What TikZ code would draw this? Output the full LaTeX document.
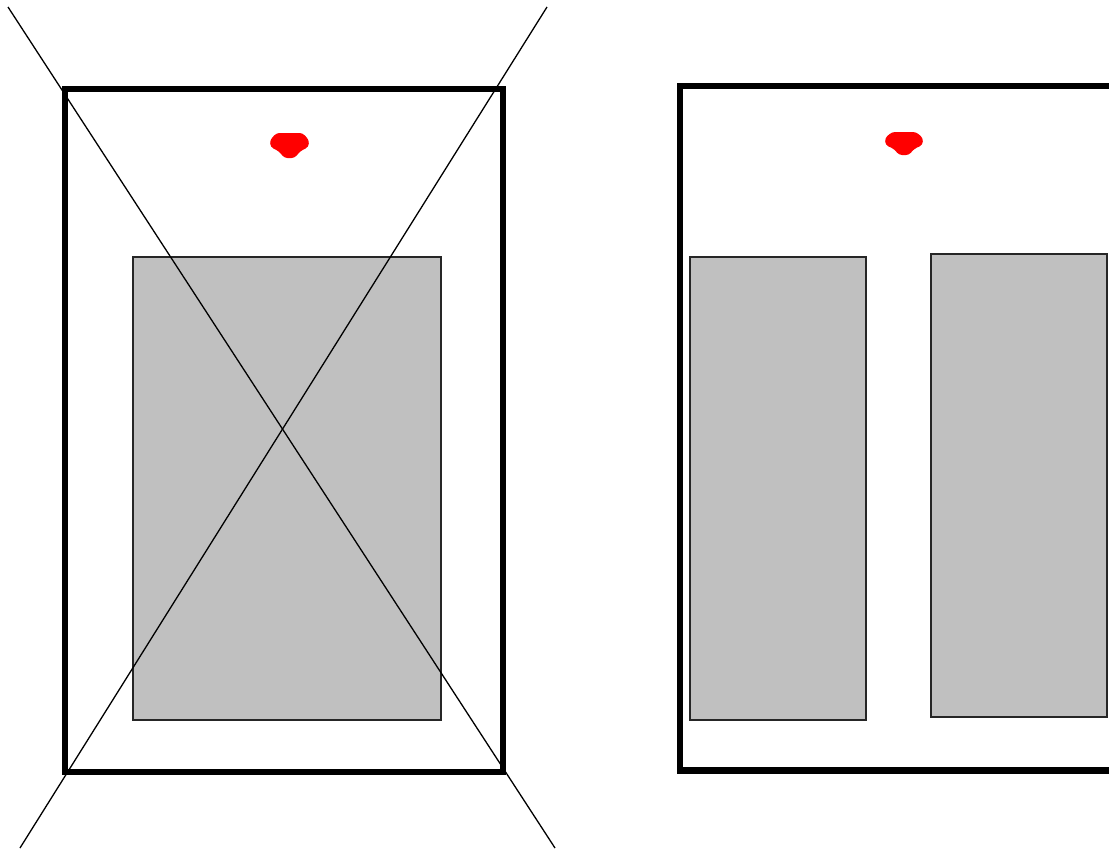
\documentclass[tikz,border=0pt]{standalone}
\begin{document}
\begin{tikzpicture}[x=1pt,y=-1pt,every node/.style={outer sep=0pt,inner sep=0pt},
  frame/.style={draw=black,line width=6.5pt},
  panel/.style={draw=black!85,fill={rgb,255:red,192;green,192;blue,192},line width=1.5pt},
  sight/.style={draw=black,line width=1.3pt},
  blob/.style={fill=red,draw=none,rounded corners=3pt}]
\useasboundingbox (0,0) rectangle (1109,854);
\fill[white] (0,0) rectangle (1109,854);
% left scene
\node[panel,minimum width=308pt,minimum height=463pt,anchor=north west] (pl) at (133,257) {};
\node[frame,minimum width=438pt,minimum height=683pt,anchor=north west,fill=none] (fl) at (65,89) {};
\coordinate (a1) at (8,7);
\coordinate (a2) at (555,848);
\coordinate (b1) at (547,7);
\coordinate (b2) at (20,848);
\draw[sight] (a1) -- (a2);
\draw[sight] (b1) -- (b2);
% red marks
\begin{scope}[shift={(289.5,145)}]
\fill[blob] (-13,-12) -- (13,-12) -- (19.5,-5) -- (19,2) -- (11,6) -- (5,13) -- (-5,13) -- (-11,6) -- (-19,2) -- (-19.5,-5) -- cycle;
\coordinate (m1) at (0,0);
\end{scope}
\begin{scope}[shift={(904,143)}]
\fill[blob] (-12,-11) -- (12,-11) -- (19,-5) -- (18.5,2) -- (10,6) -- (5,12) -- (-5,12) -- (-10,6) -- (-18.5,2) -- (-19,-5) -- cycle;
\coordinate (m2) at (0,0);
\end{scope}
% right scene
\node[panel,minimum width=176pt,minimum height=463pt,anchor=north west] (pr1) at (690,257) {};
\node[panel,minimum width=176pt,minimum height=463pt,anchor=north west] (pr2) at (931,254) {};
\draw[line width=6.5pt] (1115,86) -- (680,86) -- (680,770.5) -- (1115,770.5);
\end{tikzpicture}
\end{document}
